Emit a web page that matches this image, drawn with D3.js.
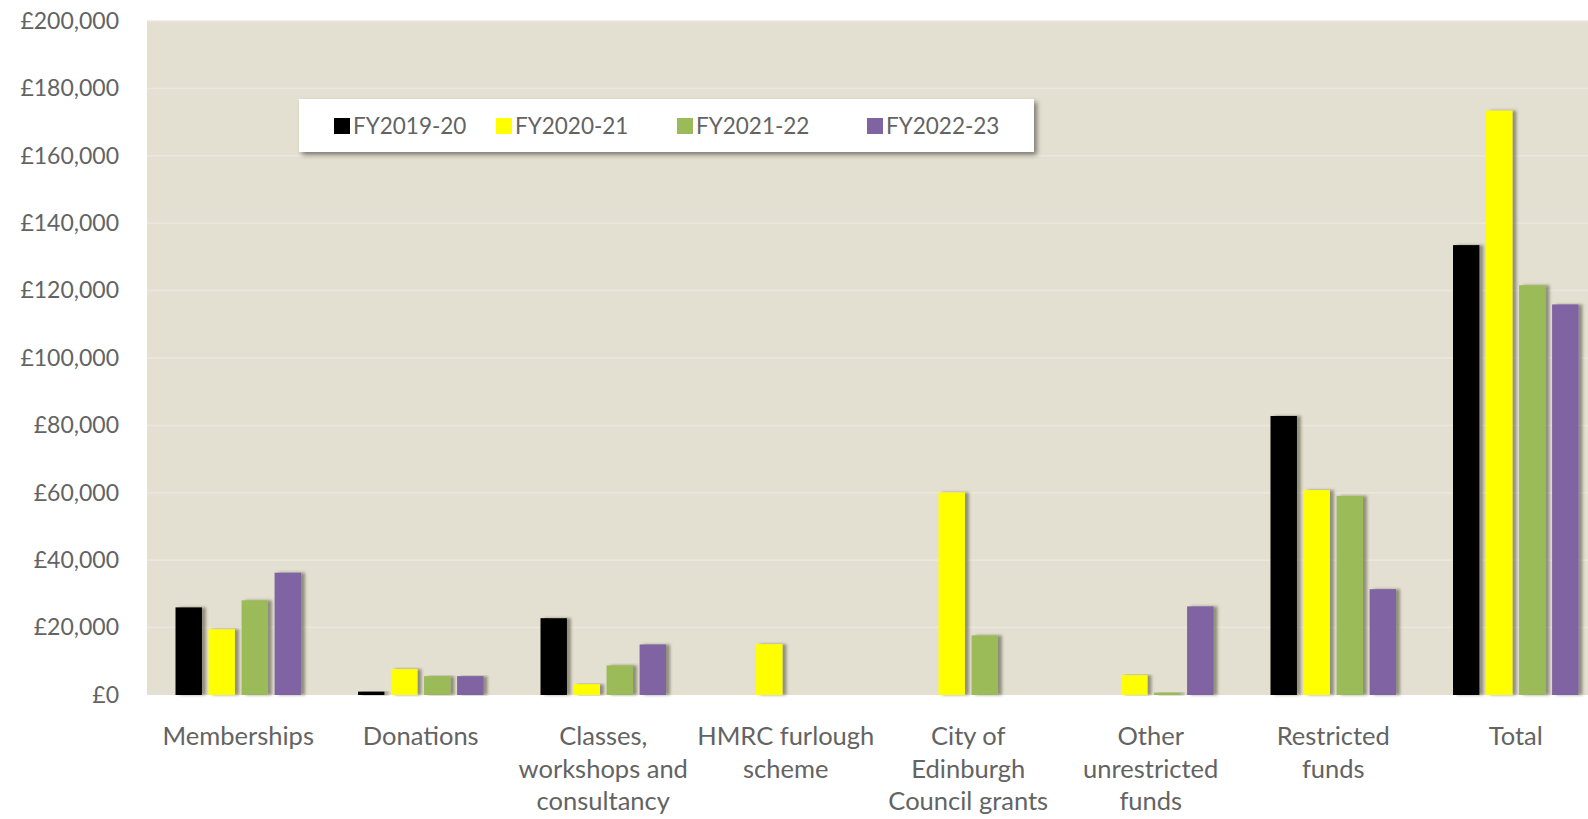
<!DOCTYPE html>
<html>
<head>
<meta charset="utf-8">
<script src="https://cdn.jsdelivr.net/npm/d3@7"></script>
<style>
  body { margin: 0; background: #fff; overflow: hidden; }
  text { font-family: Lato, "Open Sans", sans-serif; fill: #636363; }
</style>
</head>
<body>
<div id="plot"></div>
<script>
// data
var categories = [
    ["Memberships"],
    ["Donations"],
    ["Classes,", "workshops and", "consultancy"],
    ["HMRC furlough", "scheme"],
    ["City of", "Edinburgh", "Council grants"],
    ["Other", "unrestricted", "funds"],
    ["Restricted", "funds"],
    ["Total"]
];
var seriesNames = ["FY2019-20", "FY2020-21", "FY2021-22", "FY2022-23"];
var seriesColors = ["#000000", "#ffff00", "#9bbb59", "#8064a2"];
var fy2019 = [26000, 1000, 22800, 0, 0, 0, 82800, 133500];
var fy2020 = [19500, 7700, 3200, 15100, 60100, 5900, 60800, 173400];
var fy2021 = [28100, 5600, 8800, 0, 17700, 700, 59100, 121600];
var fy2022 = [36300, 5600, 15000, 0, 0, 26300, 31400, 115900];
var yTicks = [0, 20000, 40000, 60000, 80000, 100000, 120000, 140000, 160000, 180000, 200000];

var series = [fy2019, fy2020, fy2021, fy2022];

var outerWidth = 1588, outerHeight = 819;
var margin = {top: 21, left: 147};
var width = 1460, height = 674;

var svg = d3.select("#plot").append("svg")
    .attr("width", outerWidth)
    .attr("height", outerHeight);

var defs = svg.append("defs");
var sh = defs.append("filter").attr("id", "barshadow")
    .attr("x", "-20%").attr("y", "-5%").attr("width", "160%").attr("height", "110%");
sh.append("feDropShadow").attr("dx", 4).attr("dy", 0).attr("stdDeviation", 1.8)
    .attr("flood-color", "#3a3a2a").attr("flood-opacity", 0.5);
var lsh = defs.append("filter").attr("id", "legshadow")
    .attr("x", "-5%").attr("y", "-30%").attr("width", "110%").attr("height", "180%");
lsh.append("feDropShadow").attr("dx", 3).attr("dy", 3).attr("stdDeviation", 2.5)
    .attr("flood-color", "#000").attr("flood-opacity", 0.45);

var inner = svg.append("g")
    .attr("transform", "translate(" + margin.left + "," + margin.top + ")");

inner.append("rect")
    .attr("width", width)
    .attr("height", height)
    .attr("fill", "#e4e0d1");

var x0 = d3.scaleBand()
    .domain(d3.range(categories.length))
    .range([0, width]);

var x1 = d3.scaleBand()
    .domain(d3.range(seriesNames.length))
    .range([28.5, x0.bandwidth() - 28.5])
    .paddingInner(0.2);

var y = d3.scaleLinear()
    .domain([0, 200000])
    .range([height, 0]);

// gridlines
inner.append("g")
    .selectAll("line")
    .data(yTicks.slice(1))
    .enter().append("line")
    .attr("x1", 0).attr("x2", width)
    .attr("y1", function(d) { return y(d); })
    .attr("y2", function(d) { return y(d); })
    .attr("stroke", "#ebe7dc")
    .attr("stroke-width", 1.5);

// y axis
var axisY = svg.append("g")
    .attr("transform", "translate(" + margin.left + "," + margin.top + ")")
    .call(d3.axisLeft(y).tickValues(yTicks).tickSize(0).tickPadding(28)
        .tickFormat(function(d) { return "£" + d3.format(",")(d); }));
axisY.select(".domain").remove();
axisY.selectAll("text")
    .style("font-family", "Lato, sans-serif")
    .style("font-size", "23px")
    .attr("fill", "#636363");

// bars
var groups = inner.selectAll(".cat")
    .data(categories)
    .enter().append("g")
    .attr("class", "cat")
    .attr("transform", function(d, i) { return "translate(" + x0(i) + ",0)"; });

groups.selectAll("rect")
    .data(function(d, i) { return series.map(function(s, j) { return {s: j, v: s[i]}; }); })
    .enter().append("rect")
    .filter(function(d) { return d.v > 0; })
    .attr("x", function(d) { return x1(d.s); })
    .attr("width", x1.bandwidth())
    .attr("y", function(d) { return y(d.v); })
    .attr("height", function(d) { return height - y(d.v); })
    .attr("fill", function(d) { return seriesColors[d.s]; })
    .attr("filter", "url(#barshadow)");

// category labels
groups.append("text")
    .attr("text-anchor", "middle")
    .attr("x", x0.bandwidth() / 2)
    .attr("y", height + 50)
    .style("font-size", "25.5px")
    .selectAll("tspan")
    .data(function(d) { return d; })
    .enter().append("tspan")
    .attr("x", x0.bandwidth() / 2)
    .attr("dy", function(d, i) { return i === 0 ? 0 : 32.5; })
    .text(function(d) { return d; });

// legend
var legend = svg.append("g").attr("transform", "translate(299,99)");
legend.append("rect")
    .attr("width", 735)
    .attr("height", 53)
    .attr("fill", "#ffffff")
    .attr("filter", "url(#legshadow)");
var legX = [35, 197, 378, 568];
seriesNames.forEach(function(name, i) {
    legend.append("rect")
        .attr("x", legX[i])
        .attr("y", 19)
        .attr("width", 16)
        .attr("height", 16)
        .attr("fill", seriesColors[i]);
    legend.append("text")
        .attr("x", legX[i] + 19)
        .attr("y", 27)
        .attr("dy", "0.36em")
        .style("font-size", "22.5px")
        .text(name);
});
</script>
</body>
</html>
